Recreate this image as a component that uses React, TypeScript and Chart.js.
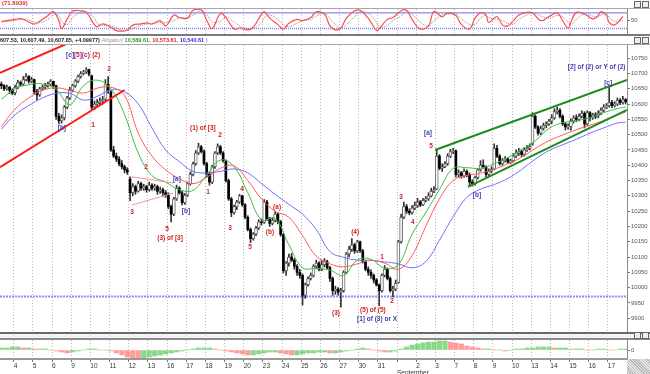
import React, { useEffect, useRef } from "react";
import { Chart, registerables } from "chart.js";

Chart.register(...registerables);

const FONT = '"Liberation Sans", Arial, Helvetica, sans-serif';

// ---------------- axis data ----------------
const dayLabels = ["4","5","6","9","10","11","12","13","16","17","18","19","20","23","24","25","26","27","30","31"," ","2","3","7","8","9","10","13","14","15","16","17"];
const monthNames = ["September"];
const monthStartDay = [20];
const firstDayBar = 5;
const barsPerDay = 7;
const priceTicks = [9900,9950,10000,10050,10100,10150,10200,10250,10300,10350,10400,10450,10500,10550,10600,10650,10700,10750];
const priceMin = 9855;
const priceMax = 10793;
const oscTicks = [50];
const oscLevels = [80, 20];
const histTicks = [0];
const supportLevel = 9971;

// ---------------- hourly OHLC (Aug 3 - Sep 17) ----------------
const opens = [
  10665,10660,10650,10655,10645,
  10636,10655,10670,10665,10680,10690,10675,
  10680,10640,10630,10650,10655,10660,10665,
  10674,10660,10560,10545,10555,10590,10620,
  10645,10660,10675,10690,10700,10705,10712,
  10692,10590,10600,10605,10610,10615,10665,
  10640,10450,10430,10420,10405,10395,10385,
  10355,10310,10330,10315,10340,10325,10330,
  10320,10335,10325,10330,10315,10320,10310,
  10303,10265,10240,10290,10325,10310,10278,
  10302,10340,10370,10405,10440,10460,10445,
  10405,10370,10345,10395,10440,10460,10440,
  10415,10350,10290,10245,10265,10280,10300,
  10271,10230,10190,10160,10175,10195,10215,
  10213,10280,10225,10210,10220,10240,10215,
  10174,10055,10080,10100,10090,10070,10050,
  10040,9975,10010,10030,10040,10070,10080,
  10060,10075,10085,10065,10030,9990,9995,
  9985,9990,10050,10110,10125,10140,10120,
  10150,10120,10085,10060,10050,10040,10025,
  10009,9990,10040,10060,10030,9990,9995,
  10016,10150,10230,10265,10250,10245,10260,
  10269,10280,10270,10285,10290,10300,10315,
  10322,10430,10390,10395,10405,10430,10445,
  10447,10370,10375,10365,10380,10370,10345,
  10340,10360,10385,10400,10395,10370,10380,
  10387,10455,10430,10405,10415,10420,10410,
  10415,10430,10440,10445,10435,10450,10455,
  10470,10560,10525,10505,10520,10530,10535,
  10544,10555,10575,10580,10560,10535,10525,
  10526,10545,10555,10550,10560,10570,10535,
  10572,10555,10565,10560,10570,10580,10590,
  10595,10605,10595,10600,10612,10605,10615,
];
const highs = [
  10672,10664,10662,10658,10650,
  10662,10678,10675,10690,10700,10693,10688,
  10682,10648,10655,10662,10668,10672,10680,
  10675,10662,10570,10565,10595,10625,10655,
  10665,10680,10695,10706,10710,10719,10714,
  10695,10610,10615,10620,10625,10680,10690,
  10644,10462,10440,10428,10415,10400,10392,
  10362,10340,10335,10348,10345,10338,10335,
  10345,10340,10338,10335,10328,10325,10318,
  10310,10270,10295,10335,10330,10315,10308,
  10345,10378,10410,10448,10472,10465,10450,
  10410,10378,10400,10445,10470,10465,10445,
  10418,10355,10295,10270,10285,10305,10302,
  10275,10235,10195,10180,10200,10222,10225,
  10288,10285,10230,10228,10248,10245,10220,
  10176,10085,10110,10112,10095,10075,10060,
  10045,10015,10035,10048,10075,10090,10085,
  10090,10095,10090,10070,10035,10005,10000,
  9998,10055,10115,10135,10160,10145,10155,
  10152,10125,10090,10068,10058,10045,10030,
  10012,10045,10072,10065,10035,10005,10025,
  10155,10240,10280,10272,10258,10268,10280,
  10292,10285,10292,10298,10310,10325,10330,
  10452,10435,10405,10412,10438,10452,10455,
  10450,10385,10380,10388,10385,10375,10352,
  10365,10390,10415,10418,10398,10388,10395,
  10470,10465,10435,10422,10428,10425,10420,
  10438,10450,10455,10450,10458,10465,10470,
  10572,10565,10530,10528,10538,10542,10550,
  10565,10585,10590,10585,10565,10540,10535,
  10552,10562,10565,10568,10578,10575,10578,
  10575,10570,10572,10578,10588,10598,10602,
  10662,10612,10608,10620,10618,10625,10618,
];
const lows = [
  10650,10644,10645,10634,10630,
  10630,10650,10658,10660,10676,10668,10670,
  10632,10612,10625,10645,10650,10655,10660,
  10650,10550,10535,10538,10548,10585,10615,
  10640,10655,10670,10685,10695,10700,10692,
  10580,10582,10592,10598,10600,10610,10635,
  10445,10425,10412,10398,10388,10375,10370,
  10284,10300,10305,10312,10318,10318,10312,
  10315,10318,10318,10305,10308,10298,10295,
  10258,10215,10235,10285,10305,10270,10272,
  10298,10335,10365,10400,10435,10440,10400,
  10362,10335,10340,10390,10435,10435,10410,
  10345,10285,10232,10240,10255,10275,10265,
  10225,10185,10147,10155,10170,10190,10205,
  10210,10220,10200,10205,10215,10208,10168,
  10048,10040,10070,10085,10060,10040,10030,
  9943,9965,10005,10025,10035,10062,10055,
  10055,10068,10060,10020,9975,9978,9975,
  9936,9985,10045,10100,10118,10112,10115,
  10115,10080,10055,10040,10030,10015,10005,
  9941,9985,10035,10025,9985,9970,9990,
  10014,10145,10225,10242,10238,10240,10255,
  10262,10265,10268,10280,10285,10296,10310,
  10320,10385,10380,10392,10400,10425,10438,
  10362,10360,10358,10360,10362,10330,10332,
  10335,10355,10380,10390,10362,10365,10375,
  10385,10425,10400,10400,10410,10405,10405,
  10410,10425,10432,10428,10430,10445,10450,
  10465,10520,10498,10500,10515,10522,10530,
  10535,10550,10568,10555,10530,10515,10518,
  10515,10538,10542,10545,10555,10522,10530,
  10545,10550,10552,10555,10565,10575,10585,
  10590,10588,10590,10595,10598,10600,10600,
];
const closes = [
  10660,10650,10655,10645,10636,
  10655,10670,10665,10680,10690,10675,10680,
  10640,10630,10650,10655,10660,10665,10674,
  10660,10560,10545,10555,10590,10620,10645,
  10660,10675,10690,10700,10705,10712,10698,
  10590,10600,10605,10610,10615,10665,10644,
  10450,10430,10420,10405,10395,10385,10378,
  10310,10330,10315,10340,10325,10330,10320,
  10335,10325,10330,10315,10320,10310,10303,
  10265,10240,10290,10325,10310,10278,10302,
  10340,10370,10405,10440,10460,10445,10405,
  10370,10345,10395,10440,10460,10440,10415,
  10350,10290,10245,10265,10280,10300,10271,
  10230,10190,10160,10175,10195,10215,10213,
  10280,10225,10210,10220,10240,10215,10174,
  10055,10080,10100,10090,10070,10050,10040,
  9975,10010,10030,10040,10070,10080,10060,
  10075,10085,10065,10030,9990,9995,9985,
  9990,10050,10110,10125,10140,10120,10150,
  10120,10085,10060,10050,10040,10025,10009,
  9990,10040,10060,10030,9990,9995,10014,
  10150,10230,10265,10250,10245,10260,10269,
  10280,10270,10285,10290,10300,10315,10320,
  10430,10390,10395,10405,10430,10445,10447,
  10370,10375,10365,10380,10370,10345,10340,
  10360,10385,10400,10395,10370,10380,10387,
  10455,10430,10405,10415,10420,10410,10415,
  10430,10440,10445,10435,10450,10455,10462,
  10560,10525,10505,10520,10530,10535,10544,
  10555,10575,10580,10560,10535,10525,10526,
  10545,10555,10550,10560,10570,10535,10572,
  10555,10565,10560,10570,10580,10590,10595,
  10605,10595,10600,10612,10605,10615,10608,
];

// ---------------- Alligator lines ----------------
const maBars = [0,5,10,15,20,25,30,35,40,45,50,55,60,65,70,75,80,85,90,95,100,105,110,115,120,125,130,135,140,145,150,155,160,165,170,175,180,185,190,195,200,205,210,215,220,225,228];
const lipsGreen = [10615,10650,10663,10666,10648,10598,10660,10678,10650,10565,10440,10366,10345,10320,10318,10368,10417,10395,10310,10222,10226,10140,10065,10063,10057,10040,10090,10093,10063,10075,10175,10245,10320,10390,10392,10390,10405,10425,10452,10480,10520,10539,10545,10556,10572,10585,10590];
const teethRed = [10527,10583,10620,10645,10653,10645,10636,10652,10655,10628,10505,10430,10385,10356,10340,10360,10390,10398,10350,10290,10250,10230,10170,10103,10078,10068,10078,10089,10080,10060,10105,10200,10290,10350,10367,10374,10387,10405,10426,10455,10480,10499,10516,10531,10546,10564,10574];
const jawBlue = [10518,10565,10595,10620,10635,10635,10613,10625,10646,10640,10600,10522,10450,10412,10380,10375,10380,10388,10375,10340,10305,10272,10240,10190,10118,10099,10090,10089,10084,10078,10065,10085,10155,10232,10295,10322,10337,10357,10386,10420,10448,10467,10485,10505,10522,10538,10541];

// ---------------- trend lines (bar index, price) ----------------
const redChannelUpperBars = [-0.5, 27];
const redChannelUpperPrices = [10702, 10809];
const redChannelLowerBars = [-0.5, 45];
const redChannelLowerPrices = [10394, 10646];
const triUpperBars = [47.7, 62.7];
const triUpperPrices = [10362, 10342];
const triLowerBars = [47.7, 62.7];
const triLowerPrices = [10270, 10309];
const greenUpperBars = [158.4, 228.5];
const greenUpperPrices = [10450, 10679];
const greenLowerBars = [170.4, 228.5];
const greenLowerPrices = [10329, 10581];

// ---------------- oscillator ----------------
const oscBars = [0,2,5,7,9,12,14,17,19,21,22,24,26,29,31,34,35,37,40,42,44,46,48,51,53,55,58,60,63,65,68,70,73,75,77,80,82,85,87,90,92,95,96,98,101,103,105,108,110,113,115,118,120,122,124,126,129,131,134,137,138,141,143,146,148,150,153,156,158,161,163,166,168,171,173,175,177,178,181,183,185,187,189,192,194,197,200,203,205,207,208,210,213,216,218,219,221,222,224,227];
const oscMain = [46,50,55,58,50,37,48,70,85,50,20,55,87,88,82,35,27,38,25,12,10,14,33,38,42,37,50,30,72,62,60,90,92,52,20,78,62,18,22,15,25,75,85,60,35,18,40,55,50,62,84,75,30,15,22,60,88,90,60,12,20,55,62,88,90,55,18,30,85,65,80,70,35,18,60,80,72,43,66,34,30,50,72,82,80,50,66,80,50,21,45,82,75,57,70,85,70,43,34,66];
const oscSignal = [48,47,51,55,55,45,42,55,72,70,45,35,62,82,85,60,40,32,30,22,14,12,20,32,38,40,43,42,50,62,62,72,88,75,45,48,65,45,30,20,20,42,62,72,55,35,28,40,50,55,68,78,58,35,20,35,65,85,78,45,25,32,50,68,85,75,45,28,50,72,75,75,58,35,35,60,72,62,55,50,40,38,55,72,80,68,60,70,65,45,35,55,75,68,64,72,76,62,48,50];

// ---------------- histogram (every 2nd bar) ----------------
const histVals = [2,2,3,3,2,2,1,1,1,0,-1,-2,-3,-2,-1,0,1,1,0,0,-1,-3,-5,-7,-8,-9,-8,-7,-6,-5,-4,-3,-2,-1,0,1,2,2,2,1,0,-1,-2,-3,-4,-5,-5,-4,-3,-2,-2,-3,-4,-5,-5,-4,-3,-3,-2,-2,-3,-3,-2,-1,0,1,2,1,0,-1,-2,-2,-1,1,3,5,6,7,8,8,9,9,8,7,6,4,3,2,1,1,0,0,-1,0,1,1,2,2,3,3,3,2,2,2,1,1,1,0,0,1,1,0,0,1,1];
const histStep = 2;

// ---------------- wave annotations ----------------
const noteText = ["[c]","[5](c)","(2)","[b]","2","1","2","3","5","(3) of [3]","[a]","[b]","(1) of [3]","1","2","3","4","5","(b)","(a)","(3)","(4)","1","2","(5) of (5)","[1] of (3) or X","3","4","[a]","5","[b]","[c]","[2] of (2) or Y of (2)"];
const noteBar = [25.1,29.4,34.6,22.1,39.3,33.5,52.8,47.7,60.5,61.6,64.1,67.4,73.6,75.5,79.9,83.5,87.9,90.8,98.1,100.7,122.2,129.2,139,142.7,135.7,137.2,146,150.3,155.8,156.9,173.7,221.6,217.4];
const notePrice = [10760,10760,10760,10520,10714,10532,10392,10247,10191,10163,10355,10251,10522,10313,10499,10195,10322,10133,10182,10264,9917,10182,10100,9957,9927,9898,10294,10214,10505,10462,10303,10668,10720];
const noteKind = ["b","p","r","b","r","r","r","r","r","r","b","b","r","r","r","r","r","r","r","r","r","r","r","r","r","b","r","r","b","r","b","b","b"];

const headerMain = ["607.53, 10,607.49, 10,607.85, +4.09977) ", "Alligator( ", "10,589.61, ", "10,573.61, ", "10,540.61", " )"];
const headerOsc = "(71.8939)";

const NOTE_COLORS: any = { r: "#d42020", b: "#4040b0", p: "#b0206a" };
const HEADER_COLORS = ["#222", "#9a9a9a", "#22a022", "#e02020", "#2a2ae0", "#9a9a9a"];

const N = closes.length;
const xMin = -0.5;
const xMax = N - 0.5;
const dayTicks = dayLabels.map((_, k) => firstDayBar + k * barsPerDay - 0.5);

const pts = (xs: number[], ys: number[]) => xs.map((x, i) => ({ x, y: ys[i] }));

function xDayAxis(showLabels: boolean): any {
  return {
    type: "linear",
    min: xMin,
    max: xMax,
    offset: false,
    afterBuildTicks: (s: any) => {
      s.ticks = dayTicks.map((v) => ({ value: v }));
    },
    afterFit: (s: any) => {
      s.height = showLabels ? 15 : 0;
      s.paddingLeft = 0;
      s.paddingRight = 0;
      s.paddingTop = 0;
      s.paddingBottom = 0;
    },
    ticks: showLabels
      ? {
          display: true,
          autoSkip: false,
          maxRotation: 0,
          minRotation: 0,
          align: "start",
          padding: 0,
          color: "#333",
          font: { size: 6.5, family: FONT },
          callback: (_v: any, i: number) => {
            const m = monthStartDay.indexOf(i);
            return m >= 0 ? [dayLabels[i], monthNames[m]] : dayLabels[i];
          },
        }
      : { display: false },
    grid: {
      display: true,
      offset: false,
      color: "#b8b8b8",
      drawTicks: showLabels,
      tickLength: 3,
      tickColor: "#777",
    },
    border: showLabels
      ? { display: true, color: "#9a9a9a", width: 2, dash: [1, 2] }
      : { display: false, dash: [1, 2] },
  };
}

function yRightAxis(min: number, max: number, ticks: number[]): any {
  return {
    position: "right",
    min,
    max,
    afterFit: (s: any) => {
      s.width = 23;
      s.paddingTop = 0;
      s.paddingBottom = 0;
      s.paddingLeft = 0;
      s.paddingRight = 0;
    },
    afterBuildTicks: (s: any) => {
      s.ticks = ticks.map((v) => ({ value: v }));
    },
    ticks: {
      color: "#555",
      padding: 1,
      font: { size: 6, family: FONT },
      callback: (v: any) => String(v),
    },
    grid: { drawOnChartArea: false, drawTicks: true, tickLength: 3, tickColor: "#777" },
    border: { display: true, color: "#8a8a8a" },
  };
}

const baseOpts = {
  responsive: false,
  animation: false,
  events: [],
  devicePixelRatio: 1,
  plugins: { legend: { display: false }, tooltip: { enabled: false } },
};

export default function App() {
  const oscRef = useRef<HTMLCanvasElement>(null);
  const mainRef = useRef<HTMLCanvasElement>(null);
  const histRef = useRef<HTMLCanvasElement>(null);

  useEffect(() => {
    // ----- oscillator panel -----
    const oscHeader = {
      id: "oscHeader",
      afterDraw(chart: any) {
        const ctx = chart.ctx;
        ctx.save();
        ctx.font = `bold 6px ${FONT}`;
        ctx.fillStyle = "#dd3333";
        ctx.textBaseline = "middle";
        ctx.fillText(headerOsc, 2, 3);
        ctx.restore();
      },
    };
    const osc = new Chart(oscRef.current as HTMLCanvasElement, {
      type: "line",
      data: {
        datasets: [
          { data: pts(oscBars, oscMain), borderColor: "#ff4d4d", borderWidth: 1.2, pointRadius: 0, tension: 0.4, order: 0 },
          { data: pts(oscBars, oscSignal), borderColor: "#8a8a8a", borderWidth: 1, borderDash: [1, 1], pointRadius: 0, tension: 0.4, order: 1 },
          { data: [{ x: xMin, y: oscLevels[0] }, { x: xMax, y: oscLevels[0] }], borderColor: "#6b6bff", borderWidth: 1, pointRadius: 0, order: 2 },
          { data: [{ x: xMin, y: oscLevels[1] }, { x: xMax, y: oscLevels[1] }], borderColor: "#7f7fff", borderWidth: 1.5, borderDash: [1, 1], pointRadius: 0, order: 2 },
        ],
      },
      options: {
        ...baseOpts,
        layout: { padding: { top: 9, left: 0, right: 0, bottom: 0 } },
        scales: { x: xDayAxis(false), y: yRightAxis(-5, 95, oscTicks) },
      } as any,
      plugins: [oscHeader],
    });

    // ----- main price panel -----
    const wicks: any[] = [];
    const upBodies: any[] = [];
    const downBodies: any[] = [];
    for (let i = 0; i < N; i++) {
      wicks.push({ x: i, y: [lows[i], highs[i]] });
      const lo = Math.min(opens[i], closes[i]);
      const hi = Math.max(opens[i], closes[i]);
      const body = { x: i, y: [lo, hi - lo < 2 ? lo + 2 : hi] };
      if (closes[i] >= opens[i]) upBodies.push(body);
      else downBodies.push(body);
    }
    const mainPlugin = {
      id: "mainNotes",
      afterDatasetsDraw(chart: any) {
        const { ctx } = chart;
        const xs = chart.scales.x;
        const ys = chart.scales.y;
        ctx.save();
        ctx.font = `bold 6.5px ${FONT}`;
        ctx.textAlign = "center";
        ctx.textBaseline = "middle";
        noteText.forEach((t, i) => {
          ctx.fillStyle = NOTE_COLORS[noteKind[i]];
          ctx.fillText(t, xs.getPixelForValue(noteBar[i]), ys.getPixelForValue(notePrice[i]));
        });
        ctx.restore();
      },
      afterDraw(chart: any) {
        const { ctx } = chart;
        ctx.save();
        ctx.textBaseline = "middle";
        let x = 0;
        headerMain.forEach((t, i) => {
          ctx.font = `${i === 1 ? "italic " : "bold "}5.5px ${FONT}`;
          ctx.fillStyle = HEADER_COLORS[i];
          ctx.fillText(t, x, 4);
          x += ctx.measureText(t).width;
        });
        ctx.restore();
      },
    };
    const line = (data: any[], color: string, width: number, order: number, extra: any = {}) => ({
      type: "line",
      data,
      borderColor: color,
      borderWidth: width,
      pointRadius: 0,
      order,
      ...extra,
    });
    const main = new Chart(mainRef.current as HTMLCanvasElement, {
      type: "bar",
      data: {
        datasets: [
          line(pts(redChannelUpperBars, redChannelUpperPrices), "#ff1a1a", 2, 0),
          line(pts(redChannelLowerBars, redChannelLowerPrices), "#ff1a1a", 2, 0),
          line(pts(triUpperBars, triUpperPrices), "#ff9090", 1, 0),
          line(pts(triLowerBars, triLowerPrices), "#ff9090", 1, 0),
          line(pts(greenUpperBars, greenUpperPrices), "#1f8a1f", 2, 0),
          line(pts(greenLowerBars, greenLowerPrices), "#1f8a1f", 2, 0),
          line(pts(maBars, lipsGreen), "#3cbf3c", 1, 1, { tension: 0.4 }),
          line(pts(maBars, teethRed), "#ff5a5a", 1, 1, { tension: 0.4 }),
          line(pts(maBars, jawBlue), "#6f6fff", 1, 1, { tension: 0.4 }),
          { type: "bar", data: downBodies, backgroundColor: "#000", barThickness: 2, grouped: false, order: 2 },
          { type: "bar", data: upBodies, backgroundColor: "#fff", borderColor: "#666", borderWidth: 1, borderSkipped: false, barThickness: 3, grouped: false, order: 2 },
          { type: "bar", data: wicks, backgroundColor: "#333", barThickness: 1, grouped: false, order: 3 },
          line([{ x: xMin, y: supportLevel }, { x: xMax, y: supportLevel }], "#8c8cff", 2, 4, { borderDash: [2, 1] }),
        ],
      },
      options: {
        ...baseOpts,
        layout: { padding: { top: 9, left: 0, right: 0, bottom: 0 } },
        scales: { x: xDayAxis(false), y: yRightAxis(priceMin, priceMax, priceTicks) },
      } as any,
      plugins: [mainPlugin],
    });

    // ----- histogram panel -----
    const histColors = histVals.map((v, k) =>
      k > 0 && v < histVals[k - 1] ? "rgba(255,90,90,0.6)" : "rgba(60,190,60,0.6)"
    );
    const hist = new Chart(histRef.current as HTMLCanvasElement, {
      type: "bar",
      data: {
        datasets: [
          {
            data: histVals.map((v, k) => ({ x: k * histStep, y: v })),
            backgroundColor: histColors,
            barThickness: 4.5,
            grouped: false,
          },
        ],
      },
      options: {
        ...baseOpts,
        layout: { padding: 0 },
        scales: { x: xDayAxis(true), y: yRightAxis(-9, 10, histTicks) },
      } as any,
    });

    return () => {
      osc.destroy();
      main.destroy();
      hist.destroy();
    };
  }, []);

  const bar = (top: number, h: number, color: string, left = 0, width = 650): any => ({
    position: "absolute",
    left,
    top,
    width,
    height: h,
    background: color,
  });
  const icon = (left: number, top: number): any => ({
    position: "absolute",
    left,
    top,
    width: 5,
    height: 5,
    border: "1px solid #666",
    background: "#eee",
  });

  return (
    <div style={{ position: "fixed", left: 0, top: 0, width: 650, height: 374, background: "#fff", overflow: "hidden" }}>
      <canvas ref={oscRef} width={650} height={35} style={{ position: "absolute", left: 0, top: 0 }} />
      <canvas ref={mainRef} width={650} height={296} style={{ position: "absolute", left: 0, top: 36 }} />
      <canvas ref={histRef} width={650} height={34} style={{ position: "absolute", left: 0, top: 340 }} />
      <div style={bar(8, 1, "#a8a8a8")} />
      <div style={bar(34, 2, "#7a7a7a")} />
      <div style={bar(44, 1, "#a8a8a8")} />
      <div style={bar(332, 2, "#6a6a6a")} />
      <div style={bar(334, 5, "#f4f4f4")} />
      <div style={bar(338, 2, "#8a8a8a")} />
      <div style={{ position: "absolute", left: 627, top: 359, width: 23, height: 15, background: "repeating-linear-gradient(45deg, #b8b8b8 0 1px, #e8e8e8 1px 2px)" }} />
      <div style={icon(634, 1)} />
      <div style={icon(642, 1)} />
      <div style={icon(634, 37)} />
      <div style={icon(642, 37)} />
      <div style={icon(634, 332)} />
      <div style={icon(642, 332)} />
    </div>
  );
}
